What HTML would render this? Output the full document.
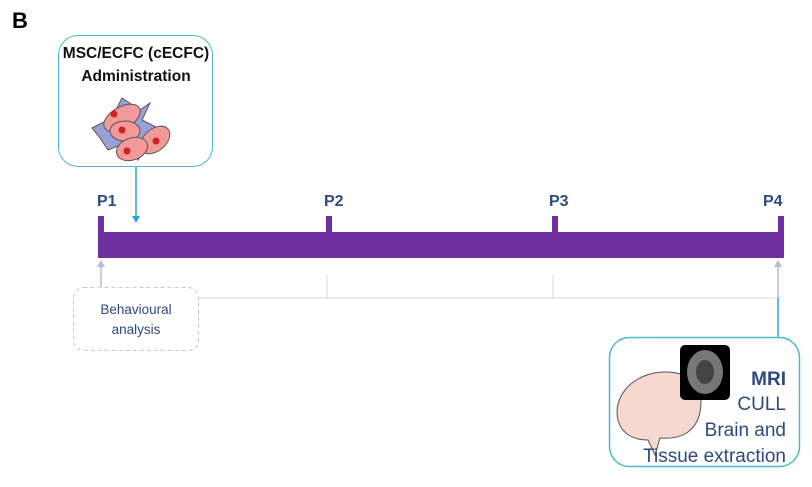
<!DOCTYPE html>
<html><head><style>
body{margin:0;width:812px;height:487px;background:#fff;position:relative;overflow:hidden;font-family:"Liberation Sans",sans-serif}
.a{position:absolute}
</style></head><body>
<div class="a" style="left:12px;top:8px;font-weight:bold;font-size:22px">B</div>
<div class="a" style="left:58px;top:35px;width:153px;height:130px;border:1.5px solid #4cb8d4;border-radius:20px"></div>
<div class="a" style="left:58px;top:42px;width:156px;text-align:center;font-weight:bold;font-size:15.5px;line-height:23px;color:#111">MSC/ECFC (cECFC)<br>Administration</div>
<svg class="a" style="left:0;top:0" width="812" height="487">
<g>
<polygon points="92,128 112,118 122,98 140,110 150,103 142,120 158,128 148,140 138,160 128,142 108,150 100,138" fill="#9aa0d8" stroke="#555" stroke-width="1"/>
<ellipse cx="122" cy="118" rx="20" ry="11" fill="#f29a9a" stroke="#555" transform="rotate(-30 122 118)"/>
<ellipse cx="125" cy="131" rx="15" ry="10" fill="#f29a9a" stroke="#555"/>
<ellipse cx="155" cy="140" rx="17" ry="11" fill="#f29a9a" stroke="#555" transform="rotate(-40 155 140)"/>
<ellipse cx="132" cy="149" rx="16" ry="11" fill="#f29a9a" stroke="#555" transform="rotate(-20 132 149)"/>
<circle cx="114" cy="114" r="3.5" fill="#d02020"/><circle cx="122" cy="130" r="3.5" fill="#d02020"/>
<circle cx="156" cy="141" r="3.5" fill="#d02020"/><circle cx="127" cy="151" r="3.5" fill="#d02020"/>
</g>
<line x1="136" y1="167" x2="136" y2="216" stroke="#29a8d8" stroke-width="1.5"/>
<polygon points="132,216 140,216 136,223" fill="#29a8d8"/>
<rect x="98" y="232" width="686" height="26" fill="#7030a0"/>
<rect x="98" y="216" width="6" height="20" fill="#7030a0"/>
<rect x="326" y="216" width="6" height="20" fill="#7030a0"/>
<rect x="552" y="216" width="6" height="20" fill="#7030a0"/>
<rect x="778" y="216" width="6" height="20" fill="#7030a0"/>
<g font-weight="bold" font-size="16" fill="#2e4a7f" font-family="Liberation Sans">
<text x="97" y="206">P1</text><text x="324" y="206">P2</text><text x="549" y="206">P3</text><text x="763" y="206">P4</text></g>
<line x1="198" y1="298" x2="778" y2="298" stroke="#d4dbe6" stroke-width="1"/>
<line x1="327" y1="275" x2="327" y2="298" stroke="#d4dbe6"/>
<line x1="553" y1="275" x2="553" y2="298" stroke="#d4dbe6"/>
<line x1="101" y1="287" x2="101" y2="266" stroke="#b4bcd8" stroke-width="1.5"/>
<polygon points="97,267 105,267 101,260" fill="#b4bcd8"/>
<line x1="778" y1="298" x2="778" y2="266" stroke="#b4bcd8" stroke-width="1.5"/>
<polygon points="774,267 782,267 778,260" fill="#b4bcd8"/>
<line x1="778" y1="337" x2="778" y2="298" stroke="#29a8d8" stroke-width="1.5"/>
<rect x="73.5" y="287.5" width="125" height="63" rx="10" fill="#fff" stroke="#c4c8d0" stroke-dasharray="4,3"/>
<text x="136" y="314" text-anchor="middle" font-size="13.5" fill="#2e4a7f" font-family="Liberation Sans">Behavioural</text>
<text x="136" y="334" text-anchor="middle" font-size="13.5" fill="#2e4a7f" font-family="Liberation Sans">analysis</text>
<rect x="609.5" y="337.5" width="190" height="129" rx="20" fill="#fff" stroke="#4cb8d4" stroke-width="1.5"/>
<path d="M618,420 C612,395 635,372 665,372 C690,372 705,385 700,412 C696,432 680,440 660,438 L655,455 L648,440 C635,440 622,435 618,420Z" fill="#f5d9d0" stroke="#555"/>
<rect x="680" y="345" width="50" height="55" rx="5" fill="#000"/>
<ellipse cx="705" cy="372" rx="18" ry="22" fill="#777"/>
<ellipse cx="705" cy="372" rx="9" ry="12" fill="#444"/>
<g font-size="19" fill="#2e4a7f" text-anchor="end" font-family="Liberation Sans">
<text x="786" y="385" font-weight="bold">MRI</text>
<text x="786" y="410">CULL</text>
<text x="786" y="436">Brain and</text>
<text x="786" y="462">Tissue extraction</text></g>
</svg>
</body></html>
